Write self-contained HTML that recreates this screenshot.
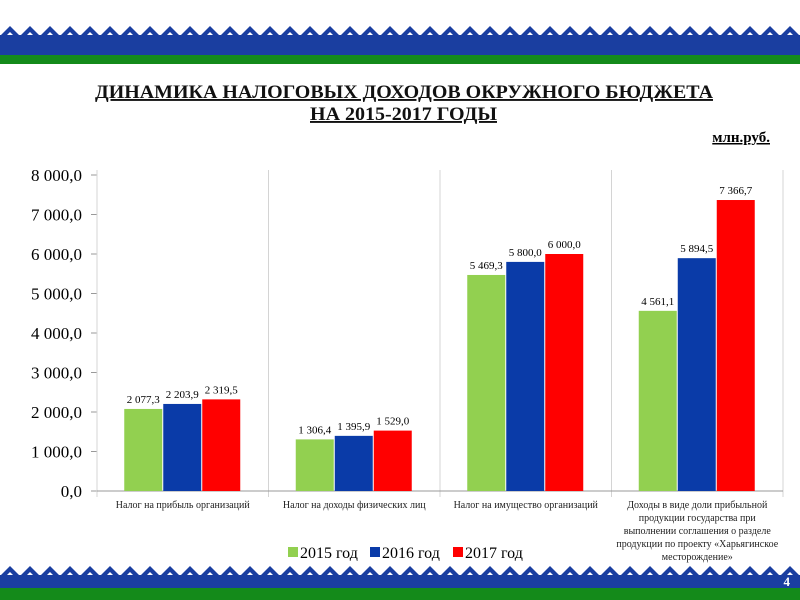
<!DOCTYPE html>
<html><head><meta charset="utf-8"><style>
body{margin:0;background:#fff}
svg{display:block;font-family:"Liberation Serif",serif}
</style></head><body>
<svg width="800" height="600">
<defs>
<pattern id="orn" x="0" y="0" width="20" height="12" patternUnits="userSpaceOnUse">
<rect width="20" height="12" fill="#fff"/>
<path d="M0 12 L10 2 L20 12 Z" fill="#1a3ea0"/>
<path d="M6 12 L10 8 L14 12 Z" fill="#fff"/>
</pattern>
</defs>
<g>
<rect x="0" y="24" width="800" height="12" fill="url(#orn)"/>
<rect x="0" y="35" width="800" height="20" fill="#1a3ea0"/>
<rect x="0" y="55" width="800" height="9" fill="#148a1a"/>
</g>
<g>
<rect x="0" y="564" width="800" height="12" fill="url(#orn)"/>
<rect x="0" y="575" width="800" height="14" fill="#1a3ea0"/>
<rect x="0" y="588" width="800" height="12" fill="#148a1a"/>
<text x="790" y="586" font-size="13" font-weight="bold" fill="#fff" text-anchor="end">4</text>
</g>
<g font-weight="bold" font-size="19" text-anchor="start" text-decoration="underline" fill="#111">
<text x="95" y="98" textLength="618" lengthAdjust="spacingAndGlyphs">ДИНАМИКА НАЛОГОВЫХ ДОХОДОВ ОКРУЖНОГО БЮДЖЕТА</text>
<text x="310" y="120" textLength="187" lengthAdjust="spacingAndGlyphs">НА 2015-2017 ГОДЫ</text>
</g>
<text x="770" y="142" font-size="15" font-weight="bold" text-anchor="end" text-decoration="underline">млн.руб.</text>
<g id="plot"></g>
</svg>
<script>
const categories=[["Налог на прибыль организаций"],["Налог на доходы физических лиц"],["Налог на имущество организаций"],["Доходы в виде доли прибыльной","продукции государства при","выполнении соглашения о разделе","продукции по проекту «Харьягинское","месторождение»"]];
const v2015=[2077.3,1306.4,5469.3,4561.1];
const v2016=[2203.9,1395.9,5800.0,5894.5];
const v2017=[2319.5,1529.0,6000.0,7366.7];
const seriesNames=["2015 год","2016 год","2017 год"];
const yTicks=[0,1000,2000,3000,4000,5000,6000,7000,8000];
const NS="http://www.w3.org/2000/svg";
const g=document.getElementById('plot');
const x0=97,x1=783,yB=491,yT=175,yMax=8000;
const y=v=>yB-(v/yMax)*(yB-yT);
const bw=(x1-x0)/categories.length;
const colors=["#92D050","#0A3BA8","#FF0000"];
const series=[v2015,v2016,v2017];
function el(t,a,txt){const e=document.createElementNS(NS,t);for(const k in a)e.setAttribute(k,a[k]);if(txt!==undefined)e.textContent=txt;g.appendChild(e);return e;}
function fmt(v){let s=v.toFixed(1).replace('.',',');let [i,d]=s.split(',');i=i.replace(/\B(?=(\d{3})+(?!\d))/g,' ');return i+','+d;}
yTicks.forEach(t=>{
 const l=el('line',{x1:x0-6,x2:x0,y1:y(t),y2:y(t),stroke:'#999'});
 
 
 const tx=el('text',{x:82,y:y(t)+6,'font-size':17,'text-anchor':'end'},fmt(t));
 
 
});
for(let i=0;i<=categories.length;i++){
 const l=el('line',{x1:x0+i*bw,x2:x0+i*bw,y1:yT-5,y2:yB+6,stroke:'#d4d4d4'});
 
 
}
const ax=el('line',{x1:x0,x2:x1,y1:yB,y2:yB,stroke:'#999'});


const barW=38;
categories.forEach((c,i)=>{
 const cx=x0+bw*(i+0.5);
 series.forEach((s,j)=>{
  const bx=cx+(j-1.5)*(barW+1);
  const r=el('rect',{x:bx,y:y(s[i]),width:barW,height:yB-y(s[i]),fill:colors[j]});
  
  
  const t=el('text',{x:bx+barW/2,y:y(s[i])-6,'font-size':11,'text-anchor':'middle'},fmt(s[i]));
  
  
 });
 c.forEach((line,k)=>{
  const t=el('text',{x:cx,y:508+k*13,'font-size':10,'text-anchor':'middle',fill:'#222'},line);
  
  
 });
});
const lx=[288,370,453];
seriesNames.forEach((n,j)=>{
 const r=el('rect',{x:lx[j],y:547,width:10,height:10,fill:colors[j]});
 
 
 const t=el('text',{x:lx[j]+12,y:558,'font-size':16},n);
 
 
});
</script>
</body></html>
